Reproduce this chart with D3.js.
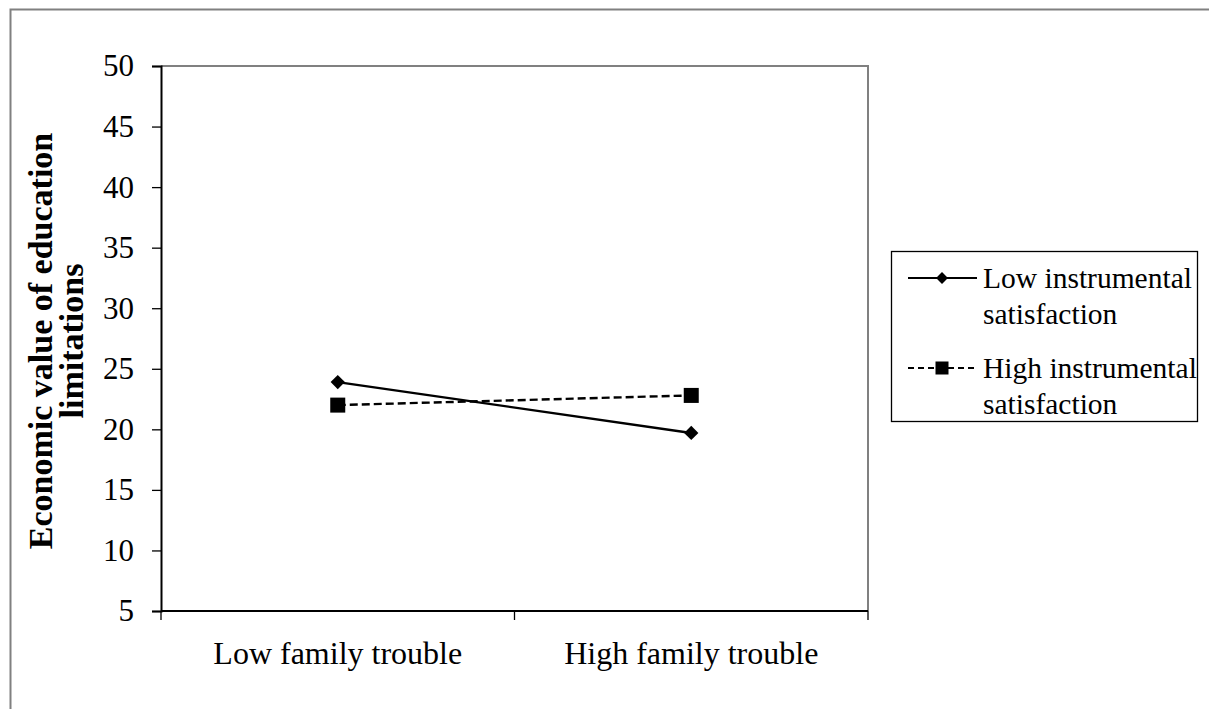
<!DOCTYPE html>
<html><head><meta charset="utf-8">
<script src="https://cdn.jsdelivr.net/npm/d3@7"></script>
<style>body{margin:0;background:#fff}svg{display:block}text{font-family:"Liberation Serif","Times New Roman",serif}</style>
</head><body><svg id="c" width="1209" height="709"></svg>
<script>
const categories = ["Low family trouble", "High family trouble"];
const seriesNames = ["Low instrumental satisfaction", "High instrumental satisfaction"];
const lowInstrumental = [23.9, 19.7];
const highInstrumental = [22.0, 22.8];
const yTicks = [5, 10, 15, 20, 25, 30, 35, 40, 45, 50];
const yTitle = ["Economic value of education", "limitations"];

const svg = d3.select("#c");
const m = {l: 161, t: 66, r: 868, b: 611};

// outer frame
svg.append("path").attr("d", "M10.5,709 V9.5 H1209").attr("fill", "none").attr("stroke", "#808080").attr("stroke-width", 2);

const x = d3.scaleBand().domain(categories).range([m.l, m.r]);
const y = d3.scaleLinear().domain([5, 50]).range([m.b, m.t]);

// plot border (top/right grey)
svg.append("path").attr("d", `M${m.l},${m.t} H${m.r} V${m.b}`).attr("fill", "none").attr("stroke", "#808080").attr("stroke-width", 2);

const ya = svg.append("g").attr("transform", `translate(${m.l},0)`)
  .call(d3.axisLeft(y).tickValues(yTicks).tickSize(9).tickPadding(18).tickFormat(d3.format("d")));
ya.select(".domain").attr("stroke", "#000").attr("stroke-width", 2);
ya.selectAll(".tick line").attr("stroke", "#000").attr("stroke-width", 1.3);
ya.selectAll(".tick text").attr("font-size", 31).attr("fill", "#000").attr("font-family", "Liberation Serif");

const xa = svg.append("g").attr("transform", `translate(0,${m.b})`)
  .call(d3.axisBottom(x).tickSize(0).tickPadding(30));
xa.select(".domain").remove();
xa.selectAll(".tick text").attr("font-size", 32).attr("fill", "#000").attr("font-family", "Liberation Serif").attr("dy", "0.71em");
// bottom axis line and boundary ticks
svg.append("line").attr("x1", m.l).attr("x2", m.r).attr("y1", m.b).attr("y2", m.b).attr("stroke", "#000").attr("stroke-width", 2);
const bounds = [m.l, x.range()[0] + x.step(), m.r];
svg.selectAll(".xb").data(bounds).join("line").attr("x1", d => d).attr("x2", d => d)
  .attr("y1", m.b).attr("y2", m.b + 9).attr("stroke", "#000").attr("stroke-width", 1.3);

const cx = d => x(d) + x.bandwidth() / 2;
const line = d3.line().x((d, i) => cx(categories[i])).y(d => y(d));

svg.append("path").datum(lowInstrumental).attr("d", line).attr("fill", "none").attr("stroke", "#000").attr("stroke-width", 2.4);
svg.append("path").datum(highInstrumental).attr("d", line).attr("fill", "none").attr("stroke", "#000").attr("stroke-width", 2.4).attr("stroke-dasharray", "8,4");

const diamond = d3.symbol().type(d3.symbolDiamond2).size(130);
svg.selectAll(".d1").data(lowInstrumental).join("path")
  .attr("d", diamond).attr("transform", (d, i) => `translate(${cx(categories[i])},${y(d)})`).attr("fill", "#000");
svg.selectAll(".s1").data(highInstrumental).join("rect")
  .attr("x", (d, i) => cx(categories[i]) - 7.5).attr("y", d => y(d) - 7.5).attr("width", 15).attr("height", 15).attr("fill", "#000");

// y title
const yt = svg.append("text").attr("transform", "translate(52,341) rotate(-90)").attr("text-anchor", "middle")
  .attr("font-weight", "bold").attr("font-size", 34).attr("fill", "#000");
yTitle.forEach((t, i) => yt.append("tspan").attr("x", 0).attr("dy", i === 0 ? 0 : 31).text(t));

// legend
const lg = svg.append("g");
lg.append("rect").attr("x", 891.5).attr("y", 251.5).attr("width", 306).attr("height", 170).attr("fill", "#fff").attr("stroke", "#000").attr("stroke-width", 1.3);
const words = seriesNames.map(s => { const k = s.lastIndexOf(" "); return [s.slice(0, k), s.slice(k + 1)]; });
const rows = [278, 368];
const ldiamond = d3.symbol().type(d3.symbolDiamond2).size(90);
rows.forEach((ry, i) => {
  lg.append("line").attr("x1", 908).attr("x2", 977).attr("y1", ry).attr("y2", ry).attr("stroke", "#000").attr("stroke-width", 2.2)
    .attr("stroke-dasharray", i === 1 ? "6,4" : null);
  if (i === 0) lg.append("path").attr("d", ldiamond).attr("transform", `translate(942,${ry})`).attr("fill", "#000");
  else lg.append("rect").attr("x", 935.5).attr("y", ry - 6.5).attr("width", 13).attr("height", 13).attr("fill", "#000");
  const t = lg.append("text").attr("x", 983).attr("y", ry + 10).attr("font-size", 29.5).attr("fill", "#000");
  t.append("tspan").attr("x", 983).text(words[i][0]);
  t.append("tspan").attr("x", 983).attr("dy", 36).text(words[i][1]);
});
</script></body></html>
